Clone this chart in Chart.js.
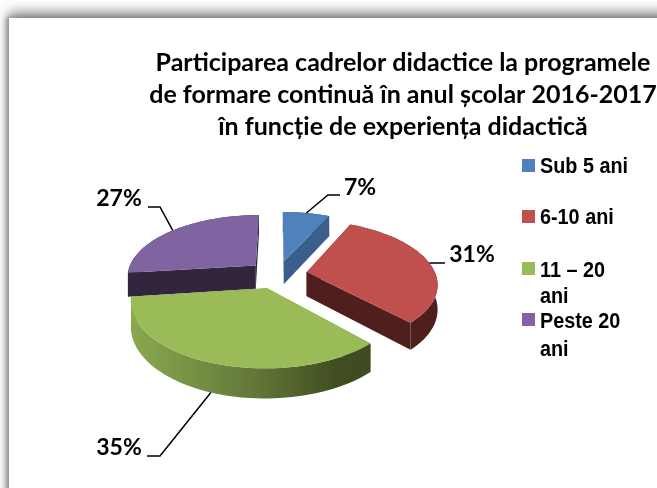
<!DOCTYPE html>
<html><head><meta charset="utf-8">
<style>
html,body{margin:0;padding:0;background:#fff;overflow:hidden;width:657px;height:488px}
#frame{position:absolute;left:9px;top:18px;width:800px;height:700px;background:#fff;box-shadow:0 -6px 12px 0 #8a8a8a,-1px 0 5px 1px #808080}
#wrap{position:absolute;left:0;top:0;width:657px;height:488px}
canvas{display:block}
</style>
<script src="https://cdn.jsdelivr.net/npm/chart.js@4"></script>
</head><body>
<div id="frame"></div>
<div id="wrap"><canvas id="c" width="657" height="488"></canvas></div>
<script>
const categories = ['Sub 5 ani', '6-10 ani', '11 – 20 ani', 'Peste 20 ani'];
const values = [7, 31, 35, 27];
const titleLines = ['Participarea cadrelor didactice la programele', 'de formare continuă în anul școlar 2016-2017', 'în funcție de experiența didactică'];
const topColors = ['#4F81BD', '#C0504D', '#9BBB59', '#8064A2'];
const sideColors = ['#3A5F8C', '#4F1F1D', '#6E8840', '#32263F'];
const legendLines = [['Sub 5 ani'], ['6-10 ani'], ['11 – 20', 'ani'], ['Peste 20', 'ani']];

const view = {cx: 277.5, cy: 274.5, a: 129, b: 61.5, k: 0.167, depth: 24, explode: 0.23};
const paintOrder = [3, 0, 1, 2];
const legendBox = {x: 522, size: 13, text: 540, top: [159, 210, 262, 313]};
const legendBase = [[173], [224], [277, 303], [328, 356]];
const callouts = [
  {label: [360, 188], elbow: [[328, 195], [340, 195]]},
  {label: [472, 255], elbow: [[445, 263]]},
  {label: [119, 448], elbow: [[160, 456], [147, 456]]},
  {label: [119, 199], elbow: [[160, 207], [148, 207]]}
];

function project(X, Y, down) {
  const w = 1 - view.k * Y;
  return [view.cx + view.a * X / w, view.cy + view.b * Y / w + (down ? view.depth / w : 0)];
}
// angle measured by Chart.js (0 = +x, clockwise); world X right, Y toward viewer
function rim(mid, ang, r) {
  const e = view.explode;
  return [Math.cos(mid) * e + Math.cos(ang) * r, Math.sin(mid) * e + Math.sin(ang) * r];
}
function arcPts(arc, down) {
  const mid = (arc.startAngle + arc.endAngle) / 2, pts = [];
  const n = 60;
  for (let i = 0; i <= n; i++) {
    const ang = arc.startAngle + (arc.endAngle - arc.startAngle) * i / n;
    const w = rim(mid, ang, 1);
    pts.push(project(w[0], w[1], down));
  }
  return pts;
}
function poly(ctx, pts, fill) {
  ctx.beginPath();
  pts.forEach((p, i) => i ? ctx.lineTo(p[0], p[1]) : ctx.moveTo(p[0], p[1]));
  ctx.closePath();
  ctx.fillStyle = fill;
  ctx.fill();
}
const pie3d = {
  id: 'pie3d',
  beforeDatasetsDraw(chart) {
    const ctx = chart.ctx, arcs = chart.getDatasetMeta(0).data;
    ctx.save();
    paintOrder.forEach(i => {
      const arc = arcs[i];
      const mid = (arc.startAngle + arc.endAngle) / 2;
      const c = rim(mid, mid, 0);
      const apexT = project(c[0], c[1], false), apexB = project(c[0], c[1], true);
      const top = arcPts(arc, false), bot = arcPts(arc, true);
      const side = sideColors[i];
      let wall = side;
      if (i === 2) {
        wall = ctx.createLinearGradient(130, 0, 372, 0);
        wall.addColorStop(0, '#8BA94F');
        wall.addColorStop(0.5, '#64793A');
        wall.addColorStop(0.85, '#414E22');
        wall.addColorStop(1, '#3E4A20');
      }
      poly(ctx, [apexT, top[0], bot[0], apexB], side);
      poly(ctx, [apexT, top[top.length - 1], bot[bot.length - 1], apexB], side);
      poly(ctx, top.concat(bot.slice().reverse()), wall);
      poly(ctx, [apexT].concat(top), topColors[i]);
    });
    // leader lines and percentage labels
    ctx.strokeStyle = '#000'; ctx.lineWidth = 1.5; ctx.lineJoin = 'miter';
    ctx.fillStyle = '#000';
    ctx.font = 'bold 23px Lato';
    ctx.textAlign = 'center'; ctx.textBaseline = 'middle';
    callouts.forEach((cb, i) => {
      const arc = arcs[i], mid = (arc.startAngle + arc.endAngle) / 2;
      const w = rim(mid, mid, 1);
      const s = project(w[0], w[1], i === 2);
      ctx.beginPath();
      ctx.moveTo(s[0], s[1]);
      cb.elbow.forEach(p => ctx.lineTo(p[0], p[1]));
      ctx.stroke();
      ctx.fillText(values[i] + '%', cb.label[0], cb.label[1]);
    });
    // legend (narrowed Arial-style bold)
    categories.forEach((name, i) => {
      ctx.fillStyle = topColors[i];
      ctx.fillRect(legendBox.x, legendBox.top[i], legendBox.size, legendBox.size);
      ctx.fillStyle = '#000';
      ctx.font = 'bold 22px "Liberation Sans"';
      ctx.textAlign = 'left'; ctx.textBaseline = 'alphabetic';
      legendLines[i].forEach((ln, j) => {
        ctx.save();
        ctx.translate(legendBox.text, legendBase[i][j]);
        ctx.scale(0.9, 1);
        ctx.fillText(ln, 0, 0);
        ctx.restore();
      });
    });
    ctx.restore();
    return false;
  }
};
new Chart(document.getElementById('c'), {
  type: 'pie',
  data: {labels: categories, datasets: [{data: values, backgroundColor: topColors, borderWidth: 0}]},
  options: {
    responsive: false,
    animation: false,
    layout: {padding: {left: 149, top: 47}},
    plugins: {
      legend: {display: false},
      tooltip: {enabled: false},
      title: {
        display: true, text: titleLines, color: '#000', fullSize: false,
        font: {family: 'Lato', weight: 'bold', size: 25, lineHeight: 1.28},
        padding: {top: 0, bottom: 4}
      }
    }
  },
  plugins: [pie3d]
});
</script>
</body></html>
